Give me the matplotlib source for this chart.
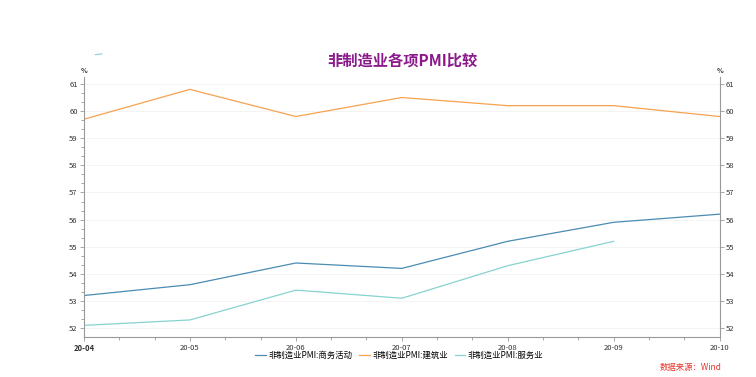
import matplotlib
matplotlib.use("Agg")
import matplotlib.pyplot as plt
from matplotlib.ticker import MultipleLocator, AutoMinorLocator

plt.rcParams['font.family'] = ['Noto Sans CJK SC', 'DejaVu Sans']

months = ['20-04', '20-05', '20-06', '20-07', '20-08', '20-09', '20-10']
business = [53.2, 53.6, 54.4, 54.2, 55.2, 55.9, 56.2]
construction = [59.7, 60.8, 59.8, 60.5, 60.2, 60.2, 59.8]
services = [52.1, 52.3, 53.4, 53.1, 54.3, 55.2]
names = ['非制造业PMI:商务活动', '非制造业PMI:建筑业', '非制造业PMI:服务业']

fig = plt.figure(figsize=(7.56, 3.77), dpi=100)
ax = fig.add_axes([0.111, 0.106, 0.841, 0.69])

x = list(range(len(months)))
ax.plot(x, business, color='#4a8cb3', lw=0.9, label=names[0])
ax.plot(x, construction, color='#f7a24f', lw=0.9, label=names[1])
ax.plot(x[:len(services)], services, color='#86d3cf', lw=0.9, label=names[2])

ax.set_xlim(0, 6)
ax.set_ylim(51.67, 61.26)
ax.set_xticks(x)
ax.set_xticklabels(months)
ax.get_xticklabels()[0].set_fontweight('bold')
ax.xaxis.set_minor_locator(AutoMinorLocator(3))
ax.yaxis.set_major_locator(MultipleLocator(1))
ax.yaxis.set_minor_locator(AutoMinorLocator(3))
ax.grid(axis='y', color='#f3f3f3', lw=0.6)
ax.set_axisbelow(True)

for s in ['left', 'right', 'bottom']:
    ax.spines[s].set_color('#999999')
    ax.spines[s].set_linewidth(0.8)
ax.spines['top'].set_visible(False)
ax.tick_params(axis='both', which='both', colors='#999999', labelcolor='#333333',
               labelsize=5.5, width=0.6)
ax.tick_params(axis='both', which='major', length=3)
ax.tick_params(axis='both', which='minor', length=2)
ax.tick_params(axis='y', right=True, labelright=True)
ax.tick_params(axis='x', pad=2)
ax.tick_params(axis='y', pad=1.5)

ax.text(0, 1.01, '%', transform=ax.transAxes, fontsize=5, fontweight='bold',
        ha='center', va='bottom', color='#333333')
ax.text(1, 1.01, '%', transform=ax.transAxes, fontsize=5, fontweight='bold',
        ha='center', va='bottom', color='#333333')

fig.text(0.532, 0.84, '非制造业各项PMI比较', fontsize=11, fontweight='bold',
         color='#8a1a8c', ha='center', va='center')
fig.lines.append(plt.Line2D([0.126, 0.135], [0.855, 0.857], transform=fig.transFigure,
                            color='#86d3cf', lw=0.8))

fig.legend(loc='center', bbox_to_anchor=(0.528, 0.058), ncol=3, frameon=False,
           fontsize=6, handlelength=1.3, handletextpad=0.3, columnspacing=0.8)
fig.text(0.955, 0.025, '数据来源：Wind', fontsize=6, color='#e8322b', style='italic',
         ha='right', va='center')

fig.savefig('out.png', dpi=100)
